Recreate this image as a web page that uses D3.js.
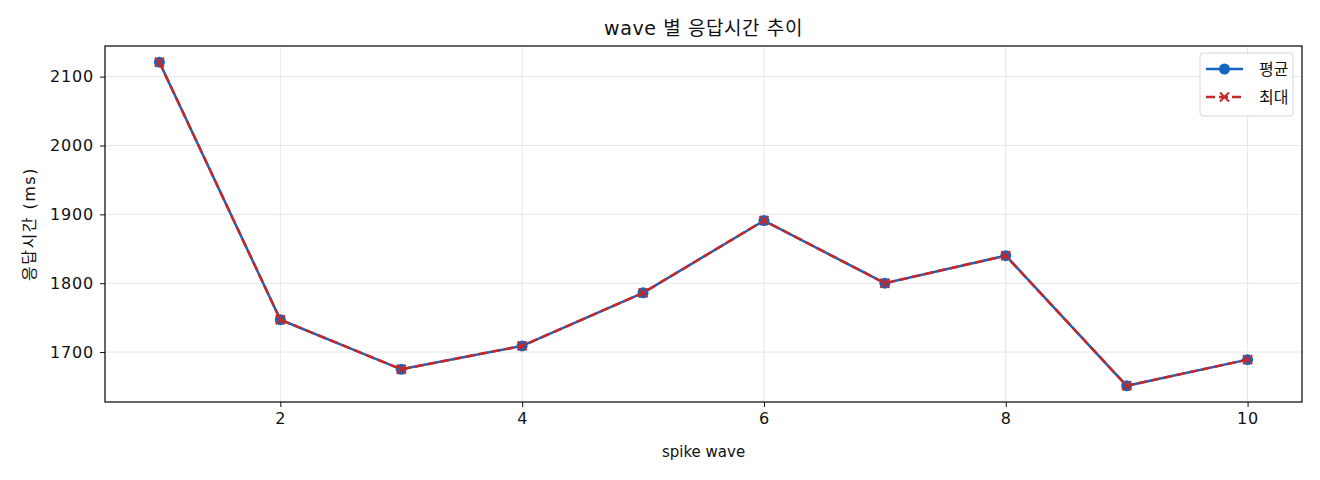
<!DOCTYPE html>
<html>
<head>
<meta charset="utf-8">
<script src="https://cdn.jsdelivr.net/npm/d3@7.9.0/dist/d3.min.js"></script>
<style>
  body { margin: 0; background: #fff; }
  svg { font-family: "DejaVu Sans", "Noto Sans CJK KR", sans-serif; }
</style>
</head>
<body>
<svg id="chart" width="1320" height="480"></svg>
<script>
const waves = [1, 2, 3, 4, 5, 6, 7, 8, 9, 10];
const avgMs = [2121, 1747, 1675, 1709, 1786, 1891, 1800, 1840, 1651, 1689];
const maxMs = [2121, 1747, 1675, 1709, 1786, 1891, 1800, 1840, 1651, 1689];
const xTicks = [2, 4, 6, 8, 10];
const yTicks = [1700, 1800, 1900, 2000, 2100];

const blue = "#1565c0";
const red = "#c62828";

const margin = { top: 46, right: 18, bottom: 78, left: 105 };
const width = 1320, height = 480;
const svg = d3.select("#chart");

// matplotlib style 5% padding
const xPad = (d3.max(waves) - d3.min(waves)) * 0.05;
const allY = avgMs.concat(maxMs);
const yPad = (d3.max(allY) - d3.min(allY)) * 0.05;

const x = d3.scaleLinear()
  .domain([d3.min(waves) - xPad, d3.max(waves) + xPad])
  .range([margin.left, width - margin.right]);
const y = d3.scaleLinear()
  .domain([d3.min(allY) - yPad, d3.max(allY) + yPad])
  .range([height - margin.bottom, margin.top]);

// grid
const grid = svg.append("g").attr("stroke", "#e6e6e6").attr("stroke-width", 1);
xTicks.forEach(t => grid.append("line")
  .attr("x1", x(t)).attr("x2", x(t))
  .attr("y1", margin.top).attr("y2", height - margin.bottom));
yTicks.forEach(t => grid.append("line")
  .attr("y1", y(t)).attr("y2", y(t))
  .attr("x1", margin.left).attr("x2", width - margin.right));

// axes
const xAxis = svg.append("g")
  .attr("transform", `translate(0,${height - margin.bottom})`)
  .call(d3.axisBottom(x).tickValues(xTicks).tickFormat(d3.format("d")).tickSize(5).tickPadding(6));
const yAxis = svg.append("g")
  .attr("transform", `translate(${margin.left},0)`)
  .call(d3.axisLeft(y).tickValues(yTicks).tickFormat(d3.format("d")).tickSize(5).tickPadding(6));
[xAxis, yAxis].forEach(a => {
  a.select(".domain").remove();
  a.selectAll("text").attr("font-size", 16).attr("fill", "#111")
    .attr("letter-spacing", 0.8)
    .style("font-family", "'DejaVu Sans', sans-serif");
  a.selectAll("line").attr("stroke", "#111");
});

// frame
svg.append("rect")
  .attr("x", margin.left).attr("y", margin.top)
  .attr("width", width - margin.left - margin.right)
  .attr("height", height - margin.top - margin.bottom)
  .attr("fill", "none").attr("stroke", "#000").attr("stroke-width", 1.2);

const line = d3.line().x((d, i) => x(waves[i])).y(d => y(d));

// avg series
svg.append("path").datum(avgMs)
  .attr("d", line).attr("fill", "none")
  .attr("stroke", blue).attr("stroke-width", 2.5);
svg.append("g").selectAll("circle").data(avgMs).join("circle")
  .attr("cx", (d, i) => x(waves[i])).attr("cy", d => y(d))
  .attr("r", 5.5).attr("fill", blue);

// max series
svg.append("path").datum(maxMs)
  .attr("d", line).attr("fill", "none")
  .attr("stroke", red).attr("stroke-width", 2.5)
  .attr("stroke-dasharray", "9,4");
const xMark = (g, cx, cy, s) => g.append("path")
  .attr("d", `M${cx - s},${cy - s}L${cx + s},${cy + s}M${cx - s},${cy + s}L${cx + s},${cy - s}`)
  .attr("stroke", red).attr("stroke-width", 2).attr("fill", "none");
const mg = svg.append("g");
maxMs.forEach((d, i) => xMark(mg, x(waves[i]), y(d), 4.5));

// labels
svg.append("text")
  .attr("x", (margin.left + width - margin.right) / 2).attr("y", 35)
  .attr("text-anchor", "middle").attr("font-size", 19).attr("fill", "#111")
  .attr("letter-spacing", 0.6)
  .text("wave 별 응답시간 추이");
svg.append("text")
  .attr("x", (margin.left + width - margin.right) / 2).attr("y", 457)
  .attr("text-anchor", "middle").attr("font-size", 15).attr("fill", "#111")
  .text("spike wave");
svg.append("text")
  .attr("transform", `translate(35,${(margin.top + height - margin.bottom) / 2}) rotate(-90)`)
  .attr("text-anchor", "middle").attr("font-size", 16).attr("fill", "#111")
  .attr("letter-spacing", 1.5)
  .text("응답시간 (ms)");

// legend
const lg = svg.append("g").attr("transform", "translate(1200,53)");
lg.append("rect").attr("width", 93).attr("height", 63).attr("rx", 3)
  .attr("fill", "#fff").attr("fill-opacity", 0.8)
  .attr("stroke", "#d6d6d6").attr("stroke-width", 1);
lg.append("line").attr("x1", 6).attr("x2", 43).attr("y1", 16).attr("y2", 16)
  .attr("stroke", blue).attr("stroke-width", 2.5);
lg.append("circle").attr("cx", 24.5).attr("cy", 16).attr("r", 5.5).attr("fill", blue);
lg.append("text").attr("x", 59).attr("y", 22).attr("font-size", 16).attr("fill", "#111").text("평균");
lg.append("line").attr("x1", 6).attr("x2", 43).attr("y1", 44).attr("y2", 44)
  .attr("stroke", red).attr("stroke-width", 2.5).attr("stroke-dasharray", "9,4");
xMark(lg, 24.5, 44, 4.5);
lg.append("text").attr("x", 59).attr("y", 50).attr("font-size", 16).attr("fill", "#111").text("최대");
</script>
</body>
</html>
